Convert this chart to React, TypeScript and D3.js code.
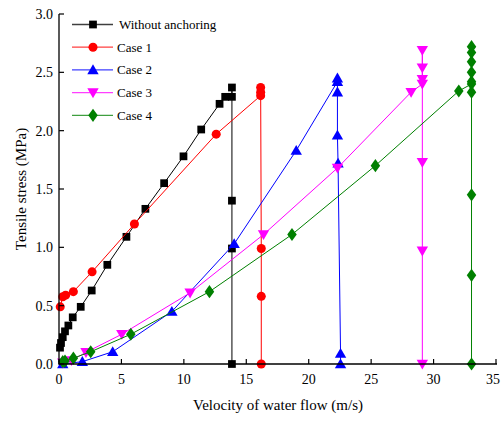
import React from "react";
import * as d3 from "d3";

const seriesNames = ["Without anchoring", "Case 1", "Case 2", "Case 3", "Case 4"];
const seriesColors = ["#000000", "#ff0000", "#0000ff", "#ff00ff", "#008000"];
const seriesSymbols = ["square", "circle", "triangle", "triangleDown", "diamond"];

const withoutX = [0.08, 0.16, 0.3, 0.48, 0.75, 1.1, 1.74, 2.62, 3.87, 5.4, 6.92, 8.42, 9.97, 11.39, 12.86, 13.31, 13.85, 13.85, 13.85, 13.85, 13.85];
const withoutY = [0.14, 0.18, 0.23, 0.28, 0.33, 0.4, 0.49, 0.63, 0.85, 1.09, 1.33, 1.55, 1.78, 2.01, 2.23, 2.29, 2.29, 2.37, 1.4, 0.99, 0.0];

const case1X = [0.1, 0.3, 0.53, 1.15, 2.65, 6.04, 12.59, 16.15, 16.15, 16.15, 16.2, 16.2, 16.2];
const case1Y = [0.49, 0.577, 0.59, 0.62, 0.79, 1.2, 1.97, 2.3, 2.33, 2.37, 0.99, 0.58, 0.0];

const case2X = [0.3, 1.87, 4.3, 9.04, 14.03, 19.0, 22.3, 22.3, 22.3, 22.3, 22.35, 22.55, 22.55];
const case2Y = [0.0, 0.02, 0.105, 0.45, 1.03, 1.83, 2.42, 2.45, 2.33, 1.96, 1.72, 0.09, 0.0];

const case3X = [0.3, 1.0, 2.16, 5.03, 10.5, 16.38, 22.3, 28.2, 29.1, 29.1, 29.1, 29.1, 29.1, 29.1, 29.1];
const case3Y = [0.01, 0.03, 0.1, 0.255, 0.61, 1.11, 1.68, 2.33, 2.4, 2.44, 2.54, 2.69, 1.73, 0.97, 0.0];

const case4X = [0.3, 0.48, 1.15, 2.54, 5.75, 12.05, 18.66, 25.34, 32.02, 33.04, 33.04, 33.04, 33.04, 33.04, 33.04, 33.04, 33.04, 33.04, 33.04];
const case4Y = [0.02, 0.025, 0.05, 0.105, 0.255, 0.62, 1.11, 1.7, 2.34, 2.4, 2.42, 2.5, 2.59, 2.67, 2.72, 2.33, 1.45, 0.76, 0.0];

const seriesX = [withoutX, case1X, case2X, case3X, case4X];
const seriesY = [withoutY, case1Y, case2Y, case3Y, case4Y];

const xTicks = [0, 5, 10, 15, 20, 25, 30, 35];
const yTicks = [0, 0.5, 1.0, 1.5, 2.0, 2.5, 3.0];

const xTitle = "Velocity of water flow (m/s)";
const yTitle = "Tensile stress (MPa)";

const FONT = "'Liberation Serif', 'Times New Roman', serif";

function symbolPath(kind: string, size: number): string {
  const map: Record<string, d3.SymbolType> = {
    square: d3.symbolSquare,
    circle: d3.symbolCircle,
    triangle: d3.symbolTriangle,
    diamond: d3.symbolDiamond,
    triangleDown: d3.symbolTriangle,
  };
  return d3.symbol().type(map[kind]).size(size)() || "";
}

function Marker({ kind, x, y, color }: { kind: string; x: number; y: number; color: string }) {
  const sizes: Record<string, number> = { square: 60, circle: 64, triangle: 56, triangleDown: 56, diamond: 50 };
  const rot = kind === "triangleDown" ? 180 : 0;
  const d = symbolPath(kind, sizes[kind]);
  const dy = kind === "triangle" ? 1 : kind === "triangleDown" ? -1 : 0;
  const sx = kind === "diamond" ? 1.25 : 1;
  return (
    <path
      d={d}
      fill={color}
      stroke="none"
      transform={`translate(${x},${y + dy}) rotate(${rot}) scale(${sx},1)`}
    />
  );
}

export default function App() {
  const W = 501;
  const H = 421;
  const x = d3.scaleLinear().domain([0, 35]).range([59, 496]);
  const y = d3.scaleLinear().domain([0, 3]).range([364, 14]);
  const line = d3
    .line<[number, number]>()
    .x((d) => x(d[0]))
    .y((d) => y(d[1]));

  const legendRows = seriesNames.map((n, i) => ({ n, i, yy: 24.5 + i * 22.7 }));

  return (
    <svg
      width={W}
      height={H}
      style={{ position: "absolute", left: 0, top: 0, background: "#fff" }}
      fontFamily={FONT}
    >
      <rect x={0} y={0} width={W} height={H} fill="#fff" />
      {seriesNames.map((name, i) => {
        const pts: [number, number][] = seriesX[i].map((v, j) => [v, seriesY[i][j]]);
        return (
          <g key={name}>
            <path d={line(pts) || ""} fill="none" stroke={seriesColors[i]} strokeWidth={1} />
            {pts.map((p, j) => (
              <Marker key={j} kind={seriesSymbols[i]} x={x(p[0])} y={y(p[1])} color={seriesColors[i]} />
            ))}
          </g>
        );
      })}
      <line x1={59} x2={59} y1={14} y2={364.5} stroke="#000" strokeWidth={1.3} />
      <line x1={58.5} x2={497} y1={364} y2={364} stroke="#000" strokeWidth={1.3} />
      {xTicks.map((t) => (
        <g key={"x" + t}>
          <line x1={x(t)} x2={x(t)} y1={364} y2={359} stroke="#000" strokeWidth={1.2} />
          <text
            x={t === 35 ? 500 : x(t)}
            y={384}
            textAnchor={t === 35 ? "end" : "middle"}
            fontSize={14}
            fill="#000"
          >
            {t}
          </text>
        </g>
      ))}
      {yTicks.map((t) => (
        <g key={"y" + t}>
          <line x1={59} x2={64} y1={y(t)} y2={y(t)} stroke="#000" strokeWidth={1.2} />
          <text x={53} y={y(t) + 5} textAnchor="end" fontSize={14} fill="#000">
            {t.toFixed(1)}
          </text>
        </g>
      ))}
      <text x={278} y={410} textAnchor="middle" fontSize={15} fill="#000">
        {xTitle}
      </text>
      <text
        transform={`translate(26,${y(1.5)}) rotate(-90)`}
        textAnchor="middle"
        fontSize={15}
        fill="#000"
      >
        {yTitle}
      </text>
      {legendRows.map(({ n, i, yy }) => (
        <g key={"lg" + n}>
          <line x1={72} x2={113} y1={yy} y2={yy} stroke={seriesColors[i]} strokeWidth={1.3} opacity={0.75} />
          <Marker kind={seriesSymbols[i]} x={93} y={yy} color={seriesColors[i]} />
          <text x={i === 0 ? 119 : 117} y={yy + 4.5} fontSize={13} fill="#000">
            {n}
          </text>
        </g>
      ))}
    </svg>
  );
}
